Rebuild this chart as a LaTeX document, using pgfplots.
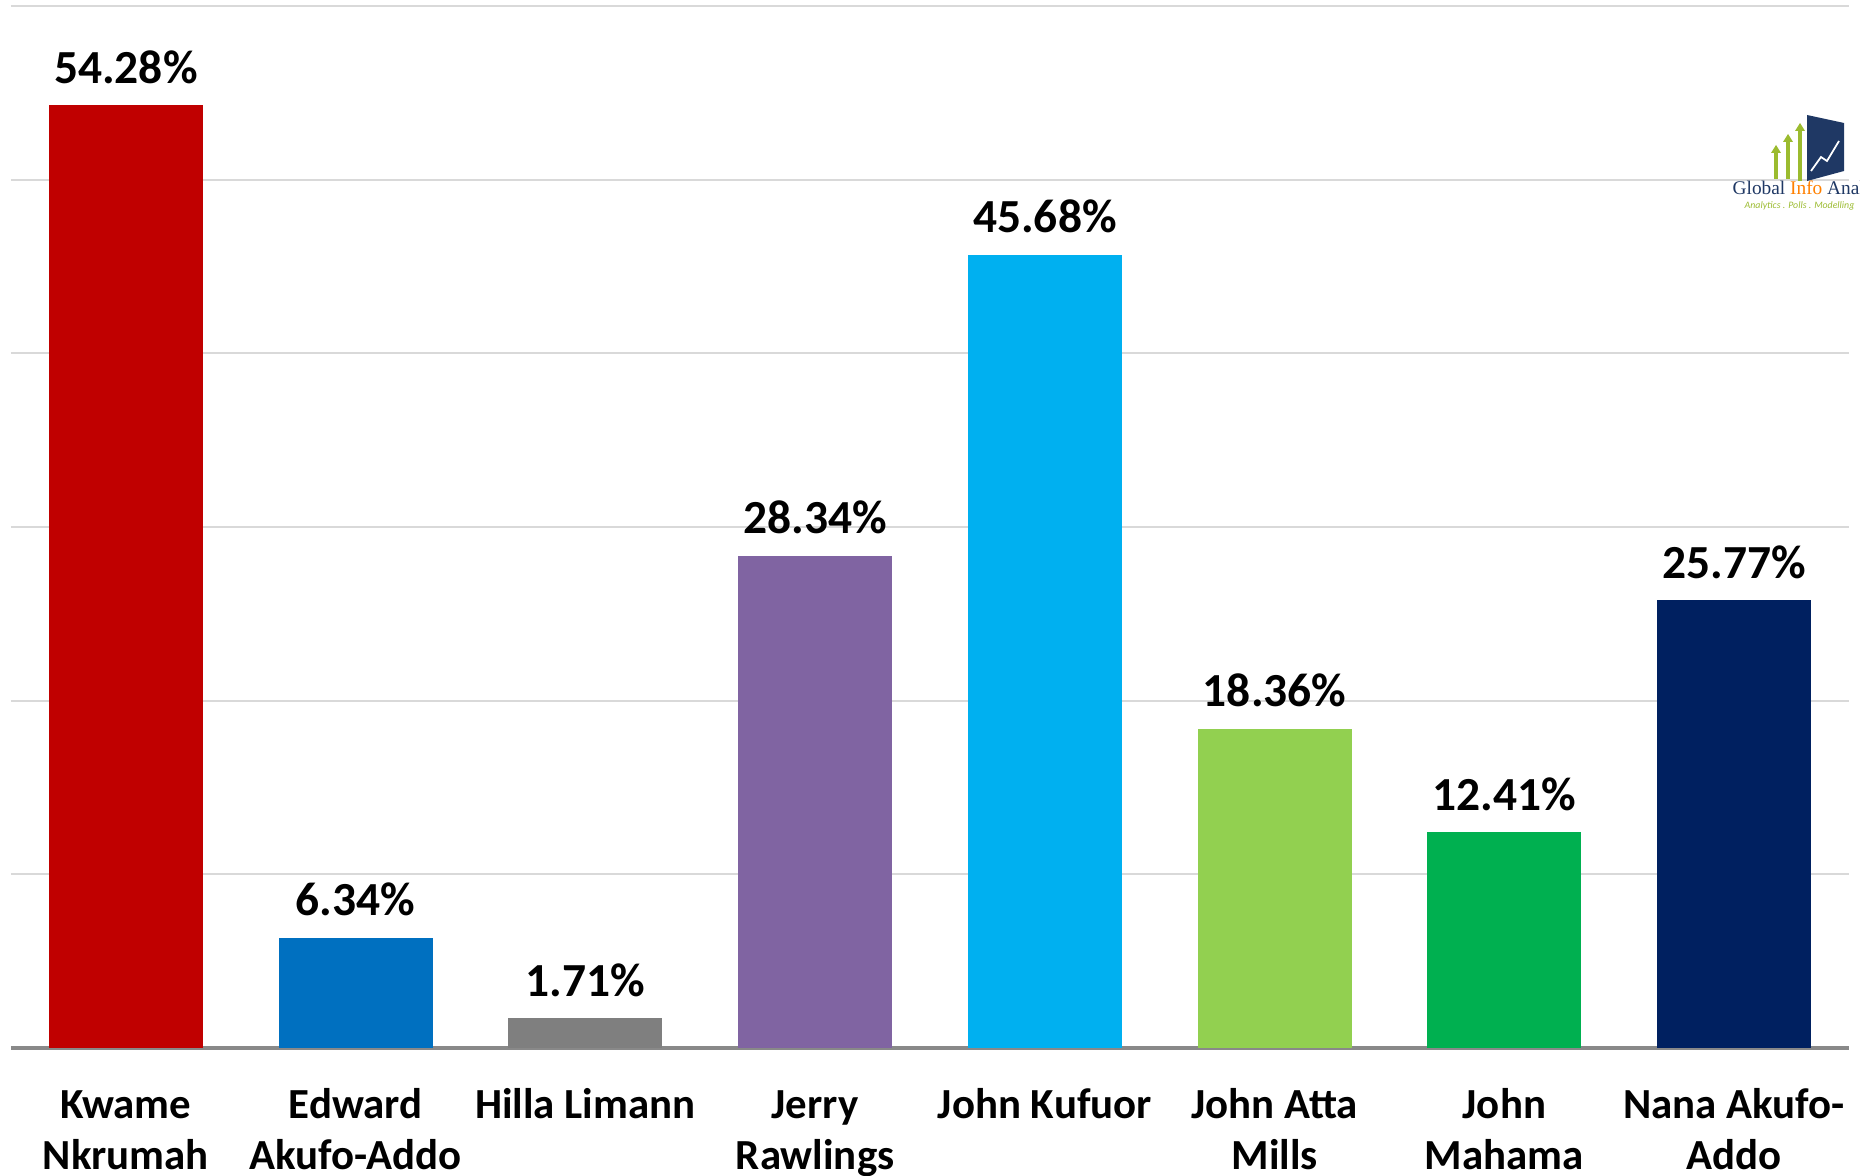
\documentclass[border=0pt]{standalone}
\usepackage{pgfplots}
\pgfplotsset{compat=1.18}
\usepackage{fontspec}
\setmainfont{Carlito}
\usetikzlibrary{calc}
\definecolor{cA}{HTML}{C00000}
\definecolor{cB}{HTML}{0070C0}
\definecolor{cC}{HTML}{7F7F7F}
\definecolor{cD}{HTML}{8064A2}
\definecolor{cE}{HTML}{00B0F0}
\definecolor{cF}{HTML}{92D050}
\definecolor{cG}{HTML}{00B050}
\definecolor{cH}{HTML}{002060}
\definecolor{gridc}{HTML}{D9D9D9}
\definecolor{basec}{HTML}{898989}
\definecolor{logoblue}{HTML}{1F3864}
\definecolor{logogreen}{HTML}{9BBB2F}
\begin{document}
\begin{tikzpicture}
\begin{axis}[
  name=ax,
  scale only axis,
  width=183.8mm, height=104.2mm,
  xmin=-0.5, xmax=7.5, ymin=0, ymax=60,
  axis x line*=bottom, axis y line*=left,
  x axis line style={basec, line width=0.9pt, -},
  y axis line style={draw=none},
  ytick={0,10,...,60}, yticklabels={}, ytick style={draw=none},
  ymajorgrids, grid style={gridc, line width=0.6pt},
  xtick={0,...,7}, xtick style={draw=none},
  xticklabels={{\strut Kwame\\Nkrumah},{\strut Edward\\Akufo-Addo},{\strut Hilla Limann},{\strut Jerry\\Rawlings},{\strut John Kufuor},{\strut John Atta\\Mills},{\strut John\\Mahama},{\strut Nana Akufo-\\Addo}},
  xticklabel style={font=\fontsize{12.2}{14.5}\selectfont\bfseries, align=center, yshift=-0.7mm},
  /pgf/number format/assume math mode=true,
  ybar, bar width=0.67, bar shift=0pt,
  nodes near coords={\pgfmathprintnumber[fixed,precision=2,fixed zerofill]{\pgfplotspointmeta}\%},
  nodes near coords style={font=\fontsize{13.5}{14.5}\selectfont\bfseries, black, anchor=south, yshift=0.95mm},
  clip=false,
]
\addplot[fill=cA, draw=none] coordinates {(0,54.28)};
\addplot[fill=cB, draw=none] coordinates {(1,6.34)};
\addplot[fill=cC, draw=none] coordinates {(2,1.71)};
\addplot[fill=cD, draw=none] coordinates {(3,28.34)};
\addplot[fill=cE, draw=none] coordinates {(4,45.68)};
\addplot[fill=cF, draw=none] coordinates {(5,18.36)};
\addplot[fill=cG, draw=none] coordinates {(6,12.41)};
\addplot[fill=cH, draw=none] coordinates {(7,25.77)};
\end{axis}
% logo
\begin{scope}[shift={(ax.south west)}, x=1mm, y=1mm]
  \clip (-1.1,-12.7) rectangle (184.9,104.8);
  \begin{scope}[yshift=-0.7mm]
  \fill[logoblue] (179.6,87.4) -- (183.3,88.4) -- (183.3,93.2) -- (179.6,94.0) -- cycle;
  \draw[white, line width=0.5pt] (180.0,88.4) -- (181.0,89.8) -- (181.6,89.4) -- (182.8,91.4);
  \fill[logogreen] (176.3,87.6) rectangle (176.7,90.2);
  \fill[logogreen] (176.0,90.2) -- (176.5,91.0) -- (177.0,90.2) -- cycle;
  \fill[logogreen] (177.5,87.6) rectangle (177.9,91.3);
  \fill[logogreen] (177.2,91.3) -- (177.7,92.1) -- (178.2,91.3) -- cycle;
  \fill[logogreen] (178.7,87.4) rectangle (179.1,92.4);
  \fill[logogreen] (178.4,92.4) -- (178.9,93.2) -- (179.4,92.4) -- cycle;
  \end{scope}
  \node[anchor=base west, inner sep=0pt, font=\fontsize{5.5}{6}\selectfont\bfseries] at (172.1,85.3)
    {\setmainfont{Liberation Serif}\textcolor{logoblue}{Global} \textcolor{orange}{Info} \textcolor{logoblue}{Analytics}};
  \node[anchor=base west, inner sep=0pt, font=\fontsize{2.8}{3}\selectfont\itshape, logogreen] at (173.3,83.9)
    {Analytics . Polls . Modelling};
\end{scope}
\pgfresetboundingbox
\path[use as bounding box] ($(ax.south west)+(-1.1mm,-12.7mm)$) rectangle ($(ax.north east)+(1.1mm,0.6mm)$);
\end{tikzpicture}
\end{document}
